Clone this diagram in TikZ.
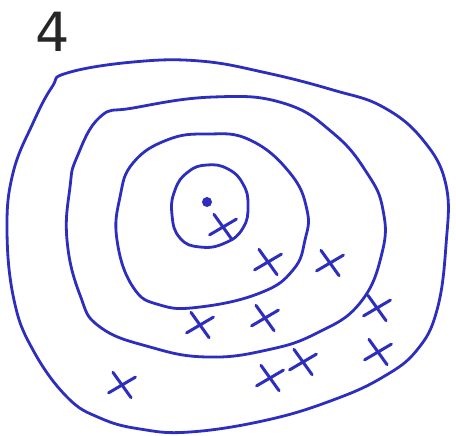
\documentclass[tikz,border=0pt]{standalone}
\usepackage{fontspec}
\setmainfont{DejaVu Sans}
\usetikzlibrary{shapes.misc}
\definecolor{pen}{RGB}{45,45,190}
\tikzset{
  ring/.style={draw=pen, line width=1.4pt, line join=round},
  crossmark/.style={cross out, draw=pen, line width=1.5pt, line cap=round,
    minimum width=10pt, minimum height=9pt, inner sep=0pt, rotate=-12},
  dot/.style={circle, fill=pen, inner sep=0pt, minimum size=5pt}
}
\begin{document}
\begin{tikzpicture}[x=0.5pt,y=-0.5pt]
\useasboundingbox (0,0) rectangle (456,435);
\node[text=black!85] (num) at (53,32) {\fontsize{27}{27}\selectfont 4};
% rings, outside in
\draw[ring] plot[smooth cycle, tension=0.7] coordinates {(52,87) (67,73) (133,62) (200,61) (267,73) (333,90) (383,107) (423,140) (446,185) (446,245) (437,310) (417,350) (383,377) (333,400) (267,420) (190,432) (140,429) (100,418) (67,397) (33,350) (14,300) (7,230) (13,173) (33,123)};
\draw[ring] plot[smooth cycle, tension=0.75] coordinates {(100,117) (133,108) (213,97) (283,103) (333,133) (367,173) (383,210) (382,253) (360,303) (317,333) (267,350) (207,357) (150,347) (100,327) (80,295) (67,240) (70,187) (77,157)};
\draw[ring] plot[smooth cycle, tension=0.75] coordinates {(133,163) (167,140) (207,134) (250,140) (290,173) (307,210) (305,240) (293,270) (260,293) (200,307) (160,305) (133,287) (117,240) (120,197)};
\draw[ring] plot[smooth cycle, tension=0.8] coordinates {(207,165) (228,169) (243,184) (248,205) (243,228) (225,243) (200,247) (180,238) (172,215) (175,190) (188,172)};
\node[dot] (core) at (207,202) {};
% crosses
\node[crossmark] (c1) at (223,227) {};
\node[crossmark] (c2) at (268,262) {};
\node[crossmark] (c3) at (330,263) {};
\node[crossmark] (c4) at (200,325) {};
\node[crossmark] (c5) at (265,318) {};
\node[crossmark] (c6) at (377,308) {};
\node[crossmark] (c7) at (378,352) {};
\node[crossmark] (c8) at (303,362) {};
\node[crossmark] (c9) at (270,378) {};
\node[crossmark] (c10) at (122,385) {};
\end{tikzpicture}
\end{document}
